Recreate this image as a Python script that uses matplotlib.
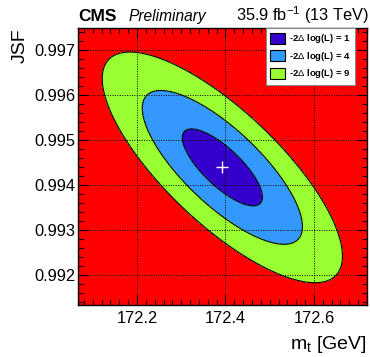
import numpy as np
import matplotlib.pyplot as plt
from matplotlib.patches import Patch
from matplotlib.ticker import MultipleLocator

plt.rcParams['font.family'] = ['Liberation Sans', 'DejaVu Sans']
plt.rcParams['mathtext.fontset'] = 'custom'
plt.rcParams['mathtext.rm'] = 'Liberation Sans'
plt.rcParams['mathtext.it'] = 'Liberation Sans:italic'
plt.rcParams['mathtext.bf'] = 'Liberation Sans:bold'

# best fit and uncertainties of the 2D (mt, JSF) likelihood fit
mt_best = 172.393
jsf_best = 0.99439
mt_sigma = 0.0905
jsf_sigma = 0.000855
rho = -0.77

levels = [1, 4, 9]
level_colors = ["#3300cc", "#3399ff", "#99ff33"]
bg_color = "#ff0000"
labels = ["-2$\\Delta$ log(L) = 1", "-2$\\Delta$ log(L) = 4", "-2$\\Delta$ log(L) = 9"]

xlim = (172.0667, 172.72)
ylim = (0.99133, 0.99749)

# -2 delta log L on a grid (gaussian approximation)
mt = np.linspace(xlim[0], xlim[1], 600)
jsf = np.linspace(ylim[0], ylim[1], 600)
X, Y = np.meshgrid(mt, jsf)
u = (X - mt_best) / mt_sigma
v = (Y - jsf_best) / jsf_sigma
nll = (u**2 + v**2 - 2 * rho * u * v) / (1 - rho**2)

fig = plt.figure(figsize=(3.7, 3.57), dpi=100)
ax = fig.add_axes([0.2108, 0.1457, 0.7811, 0.7759])
ax.set_facecolor(bg_color)

ax.contourf(X, Y, nll, levels=[0] + levels, colors=level_colors, zorder=1)
ax.contour(X, Y, nll, levels=levels, colors="black", linewidths=0.8, zorder=2)
ax.plot([mt_best], [jsf_best], marker="+", color="white", markersize=9,
        markeredgewidth=1.0, zorder=4)

ax.set_xlim(*xlim)
ax.set_ylim(*ylim)

ax.xaxis.set_major_locator(MultipleLocator(0.2))
ax.xaxis.set_minor_locator(MultipleLocator(0.02))
ax.yaxis.set_major_locator(MultipleLocator(0.001))
ax.yaxis.set_minor_locator(MultipleLocator(0.0002))
ax.xaxis.set_major_formatter(plt.FuncFormatter(lambda v, p: f"{v:.1f}"))
ax.yaxis.set_major_formatter(plt.FuncFormatter(lambda v, p: f"{v:.3f}"))

ax.tick_params(which="both", direction="in", top=True, right=True,
               labelsize=11.8, width=0.8)
ax.tick_params(which="major", length=7)
ax.tick_params(which="minor", length=3.5)
ax.tick_params(axis="y", which="major", pad=2)
ax.tick_params(axis="x", which="major", pad=4)
ax.grid(True, which="major", color="black", linestyle=(0, (1, 1.5)),
        linewidth=0.7, zorder=3)
ax.set_axisbelow(False)
for s in ax.spines.values():
    s.set_linewidth(1.0)
    s.set_zorder(5)

ax.set_xlabel("m$_\\mathrm{t}$ [GeV]", fontsize=14, loc="right", labelpad=6)
ax.set_ylabel("JSF", fontsize=14, loc="top", labelpad=4)

handles = [Patch(facecolor=c, edgecolor="black", linewidth=0.8) for c in level_colors]
leg = ax.legend(handles, labels, loc="upper right", bbox_to_anchor=(0.958, 1.0),
                frameon=True, fancybox=False, framealpha=1,
                prop={"weight": "bold", "size": 6.8},
                handlelength=1.6, handleheight=1.4, handletextpad=0.4,
                labelspacing=0.48, borderpad=0.45, borderaxespad=0.0)
leg.get_frame().set_edgecolor("#888888")
leg.get_frame().set_linewidth(0.8)
leg.set_zorder(6)

fig.text(0.212, 0.941, "CMS", fontsize=12.5, fontweight="bold", ha="left", va="baseline")
fig.text(0.346, 0.941, "Preliminary", fontsize=11.2, fontstyle="italic", ha="left", va="baseline")
fig.text(0.997, 0.941, "35.9 fb$^{-1}$ (13 TeV)", fontsize=11.8, ha="right", va="baseline")

fig.savefig("out.png", dpi=100)
